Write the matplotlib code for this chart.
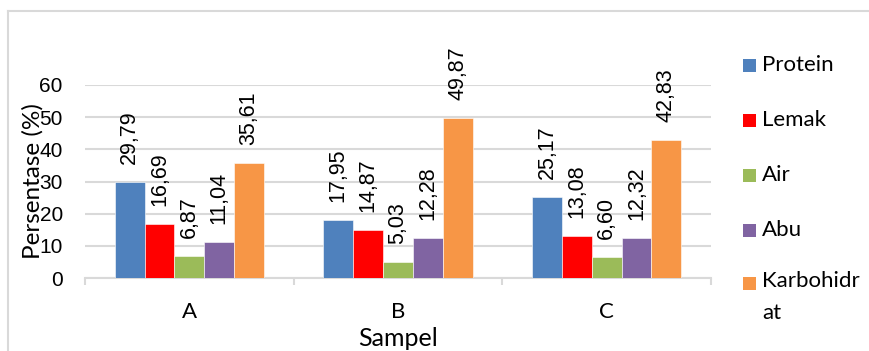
import matplotlib.pyplot as plt
import numpy as np
from matplotlib.patches import Rectangle
from matplotlib.lines import Line2D

sampel = ["A", "B", "C"]
komponen = ["Protein", "Lemak", "Air", "Abu", "Karbohidrat"]
label_legend = ["Protein", "Lemak", "Air", "Abu", "Karbohidr\nat"]

protein = [29.79, 17.95, 25.17]
lemak = [16.69, 14.87, 13.08]
air = [6.87, 5.03, 6.60]
abu = [11.04, 12.28, 12.32]
karbohidrat = [35.61, 49.87, 42.83]

nilai = [protein, lemak, air, abu, karbohidrat]
warna = ["#4f81bd", "#ff0000", "#9bbb59", "#8064a2", "#f79646"]

abu_abu = "#d9d9d9"
font_angka = "Liberation Sans"
font_teks = "Lato"

fig = plt.figure(figsize=(8.69, 3.51), dpi=100)
ax = fig.add_axes([85 / 869, 1 - 278 / 351, 626 / 869, 193 / 351])

x = np.arange(len(sampel))
lebar = 0.143
for i, (nama, data, c) in enumerate(zip(komponen, nilai, warna)):
    pos = x + (i - 2) * lebar
    bars = ax.bar(pos, data, lebar, color=c, edgecolor="white", linewidth=0.4,
                  label=nama, zorder=3)
    for b, v in zip(bars, data):
        ax.annotate(f"{v:.2f}".replace(".", ","),
                    (b.get_x() + b.get_width() / 2, v),
                    xytext=(0, 13), textcoords="offset points",
                    rotation=90, ha="center", va="bottom",
                    fontsize=15.5, family=font_angka, color="#000000")

ax.set_xlim(-0.5, 2.5)
ax.set_ylim(0, 60)
ax.set_yticks(range(0, 61, 10))
ax.grid(axis="y", color=abu_abu, linewidth=1.5, zorder=0)
ax.set_axisbelow(True)

for s in ["top", "right", "left"]:
    ax.spines[s].set_visible(False)
ax.spines["bottom"].set_color(abu_abu)
ax.spines["bottom"].set_linewidth(1.5)

ax.set_xticks(x)
ax.set_xticklabels(sampel, fontsize=16, family=font_teks)
ax.set_xticks([-0.5, 0.5, 1.5, 2.5], minor=True)
ax.tick_params(axis="x", which="major", length=0, pad=17)
ax.tick_params(axis="x", which="minor", length=5, width=1.5, color=abu_abu)
ax.tick_params(axis="y", length=0, pad=16)
for t in ax.get_yticklabels():
    t.set_family(font_angka)
    t.set_fontsize(15)

ax.set_ylabel("Persentase (%)", fontsize=17.5, family=font_teks)
ax.yaxis.set_label_coords(-0.083, 0.5)
ax.yaxis.label.set_va("center")
ax.set_xlabel("Sampel", fontsize=18, family=font_teks)
ax.xaxis.set_label_coords(0.5, -0.311)
ax.xaxis.label.set_va("center")

# legenda di sisi kanan
y_legend = [65, 120, 175, 230, 283]
for lbl, c, yp in zip(label_legend, warna, y_legend):
    fig.patches.append(Rectangle((743 / 869, 1 - (yp + 6.5) / 351), 13 / 869, 13 / 351,
                                 transform=fig.transFigure, facecolor=c,
                                 edgecolor="none"))
    if "\n" in lbl:
        fig.text(762 / 869, 1 - (yp - 12) / 351, lbl, fontsize=16, family=font_teks,
                 va="top", linespacing=1.75, transform=fig.transFigure)
    else:
        fig.text(762 / 869, 1 - yp / 351, lbl, fontsize=16, family=font_teks,
                 va="center", transform=fig.transFigure)

# bingkai area grafik
fig.add_artist(Line2D([8 / 869, 1], [1 - 11 / 351, 1 - 11 / 351],
                      transform=fig.transFigure, color=abu_abu, linewidth=1.5))
fig.add_artist(Line2D([8 / 869, 8 / 869], [0, 1 - 11 / 351],
                      transform=fig.transFigure, color=abu_abu, linewidth=1.5))

fig.savefig("out.png", dpi=100)
